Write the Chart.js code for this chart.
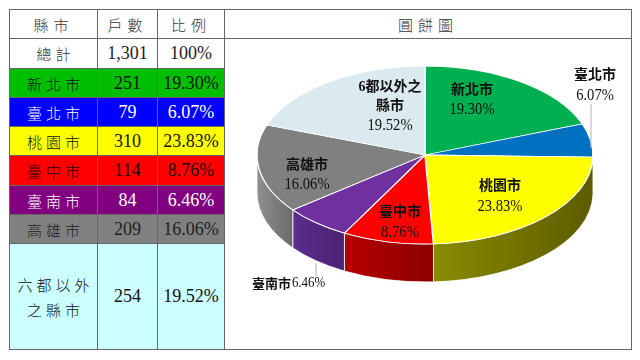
<!DOCTYPE html>
<html>
<head>
<meta charset="utf-8">
<script src="https://cdn.jsdelivr.net/npm/chart.js@4.4.1/dist/chart.umd.min.js"></script>
<style>
  body { margin: 0; width: 640px; height: 360px; overflow: hidden; position: relative; background: #fff;
         font-family: "Liberation Serif", "Noto Sans CJK TC", serif; }
  table { position: absolute; left: 9px; top: 9px; border-collapse: collapse; table-layout: fixed; }
  td { border: 1px solid #666; text-align: center; padding: 0; font-size: 18px; color: #222; }
  td.name { font-family: "Noto Sans CJK TC", sans-serif; font-weight: 300; font-size: 15px; letter-spacing: 4px; padding-left: 4px; line-height: 25px; }
  td.title { font-family: "Noto Sans CJK TC", sans-serif; font-weight: 300; font-size: 15px; letter-spacing: 5px; color: #333; }
  #pie { position: absolute; left: 225px; top: 39px; }
</style>
</head>
<body>
<table id="tbl"></table>
<canvas id="pie" width="405" height="309"></canvas>
<script>
// Data
const cities = ['新北市', '臺北市', '桃園市', '臺中市', '臺南市', '高雄市', '六都以外之縣市'];
const pieNames = ['新北市', '臺北市', '桃園市', '臺中市', '臺南市', '高雄市', '6都以外之\n縣市'];
const households = [251, 79, 310, 114, 84, 209, 254];
const shares = [19.30, 6.07, 23.83, 8.76, 6.46, 16.06, 19.52];
const headers = ['縣市', '戶數', '比例', '圓餅圖'];

// Styles
const rowBg = ['#00BF00', '#0000FF', '#FFFF00', '#FF0000', '#800080', '#808080', '#CCFFFF'];
const rowText = ['#111', '#fff', '#111', '#1a0000', '#fff', '#1e1e1e', '#111'];
const rowHeights = [29, 30, 29, 29, 29, 30, 29, 29, 106];
const pieColors = ['#00B050', '#0070C0', '#FFFF00', '#FF0000', '#7030A0', '#808080', '#DAEAEE'];
const sideColors = [
  ['#008a3c', '#006e30'], ['#005a9a', '#004a80'], ['#8a8a00', '#5c5c00'], ['#b40000', '#8c0000'],
  ['#5c2c8c', '#4c2274'], ['#909090', '#6a6a6a'], ['#b0c0c4', '#9aaaae']
];
// label block centre / leader lines, in units of the ellipse radii from the pie centre
const labelPos = [[0.28, -0.62], [1.012, -0.78], [0.446, 0.466], [-0.149, 0.758], [-0.815, 1.438], [-0.702, 0.225], [-0.208, -0.545]];
const leaders = { 1: [0.988, -0.573, -0.079], 4: [-0.649, 1.213, 1.371] };

// Table
const total = households.reduce((a, b) => a + b, 0);
const tbl = document.getElementById('tbl');
const colW = [88, 60, 67, 407];
tbl.innerHTML = `<colgroup>${colW.map(w => `<col style="width:${w}px">`).join('')}</colgroup>` +
  `<tr style="height:${rowHeights[0]}px">${headers.map(h => `<td class="title">${h}</td>`).join('')}</tr>` +
  `<tr style="height:${rowHeights[1]}px"><td class="name" style="color:#333">總計</td><td>${total.toLocaleString('en-US')}</td><td>100%</td>` +
  `<td rowspan="${cities.length + 1}"></td></tr>` +
  cities.map((c, i) => `
    <tr style="height:${rowHeights[i + 2]}px;background:${rowBg[i]};color:${rowText[i]}">
      <td class="name" style="color:${rowText[i]}">${c}</td>
      <td style="color:${rowText[i]}">${households[i]}</td>
      <td style="color:${rowText[i]}">${shares[i].toFixed(2)}%</td>
    </tr>`).join('');

// Pie (tilted, with extruded side)
const RX = 168, RY = 89, DEPTH = 38;

const pie3d = {
  id: 'pie3d',
  beforeDatasetsDraw(chart) {
    const ctx = chart.ctx;
    const arcs = chart.getDatasetMeta(0).data;
    const { x, y, outerRadius } = arcs[0];
    // side walls of the front half
    arcs.forEach((arc, i) => {
      const s = Math.max(arc.startAngle, 0);
      const e = Math.min(arc.endAngle, Math.PI);
      if (s >= e) return;
      const xs = x + RX * Math.cos(s), xe = x + RX * Math.cos(e);
      const g = ctx.createLinearGradient(Math.min(xs, xe), 0, Math.max(xs, xe), 0);
      g.addColorStop(0, sideColors[i][0]);
      g.addColorStop(1, sideColors[i][1]);
      ctx.beginPath();
      ctx.ellipse(x, y, RX, RY, 0, s, e, false);
      ctx.ellipse(x, y + DEPTH, RX, RY, 0, e, s, true);
      ctx.closePath();
      ctx.fillStyle = g;
      ctx.fill();
      ctx.strokeStyle = 'rgba(255,255,255,0.8)';
      ctx.lineWidth = 1;
      ctx.stroke();
    });
    // squash the top face into an ellipse
    ctx.save();
    ctx.translate(x, y);
    ctx.scale(RX / outerRadius, RY / outerRadius);
    ctx.translate(-x, -y);
  },
  afterDatasetsDraw(chart) {
    const ctx = chart.ctx;
    ctx.restore();
    const { x, y } = chart.getDatasetMeta(0).data[0];
    ctx.save();
    ctx.strokeStyle = '#bdbdbd';
    ctx.lineWidth = 1.2;
    Object.entries(leaders).forEach(([i, l]) => {
      ctx.beginPath();
      ctx.moveTo(x + l[0] * RX, y + l[1] * RY);
      ctx.lineTo(x + l[0] * RX, y + l[2] * RY);
      ctx.stroke();
    });
    ctx.fillStyle = '#111';
    ctx.textAlign = 'center';
    ctx.textBaseline = 'middle';
    const pct = v => v.toFixed(2) + '%';
    const cjk = 'bold 14px "Liberation Serif", "Noto Sans CJK TC"';
    pieNames.forEach((name, i) => {
      const cx = x + labelPos[i][0] * RX, cy = y + labelPos[i][1] * RY;
      if (i === 4) {
        ctx.font = 'bold 13px "Noto Sans CJK TC"';
        const w1 = ctx.measureText(name).width;
        ctx.font = '15px "Liberation Serif"';
        const w2 = ctx.measureText(pct(shares[i])).width * 0.86;
        const x0 = cx - (w1 + w2) / 2;
        ctx.textAlign = 'left';
        ctx.font = 'bold 13px "Noto Sans CJK TC"';
        ctx.fillText(name, x0, cy);
        ctx.save();
        ctx.translate(x0 + w1 + 1, cy);
        ctx.scale(0.86, 1);
        ctx.font = '15px "Liberation Serif"';
        ctx.fillText(pct(shares[i]), 0, 0);
        ctx.restore();
        ctx.textAlign = 'center';
        return;
      }
      const lines = name.split('\n').concat(pct(shares[i]));
      const lh = 19.5;
      lines.forEach((t, k) => {
        const ly = cy + (k - (lines.length - 1) / 2) * lh;
        if (k === lines.length - 1) {
          ctx.save();
          ctx.translate(cx, ly);
          ctx.scale(0.86, 1);
          ctx.font = '17px "Liberation Serif"';
          ctx.fillText(t, 0, 0);
          ctx.restore();
        } else {
          ctx.font = cjk;
          ctx.fillText(t, cx, ly);
        }
      });
    });
    ctx.restore();
  }
};

new Chart(document.getElementById('pie'), {
  type: 'pie',
  data: {
    labels: cities,
    datasets: [{
      data: shares,
      backgroundColor: pieColors,
      borderColor: '#ffffff',
      borderWidth: 1,
      clip: false
    }]
  },
  options: {
    responsive: false,
    animation: false,
    layout: { padding: { left: 0, right: 5, top: 0, bottom: 77 } },
    plugins: { legend: { display: false }, tooltip: { enabled: false } }
  },
  plugins: [pie3d]
});
</script>
</body>
</html>
